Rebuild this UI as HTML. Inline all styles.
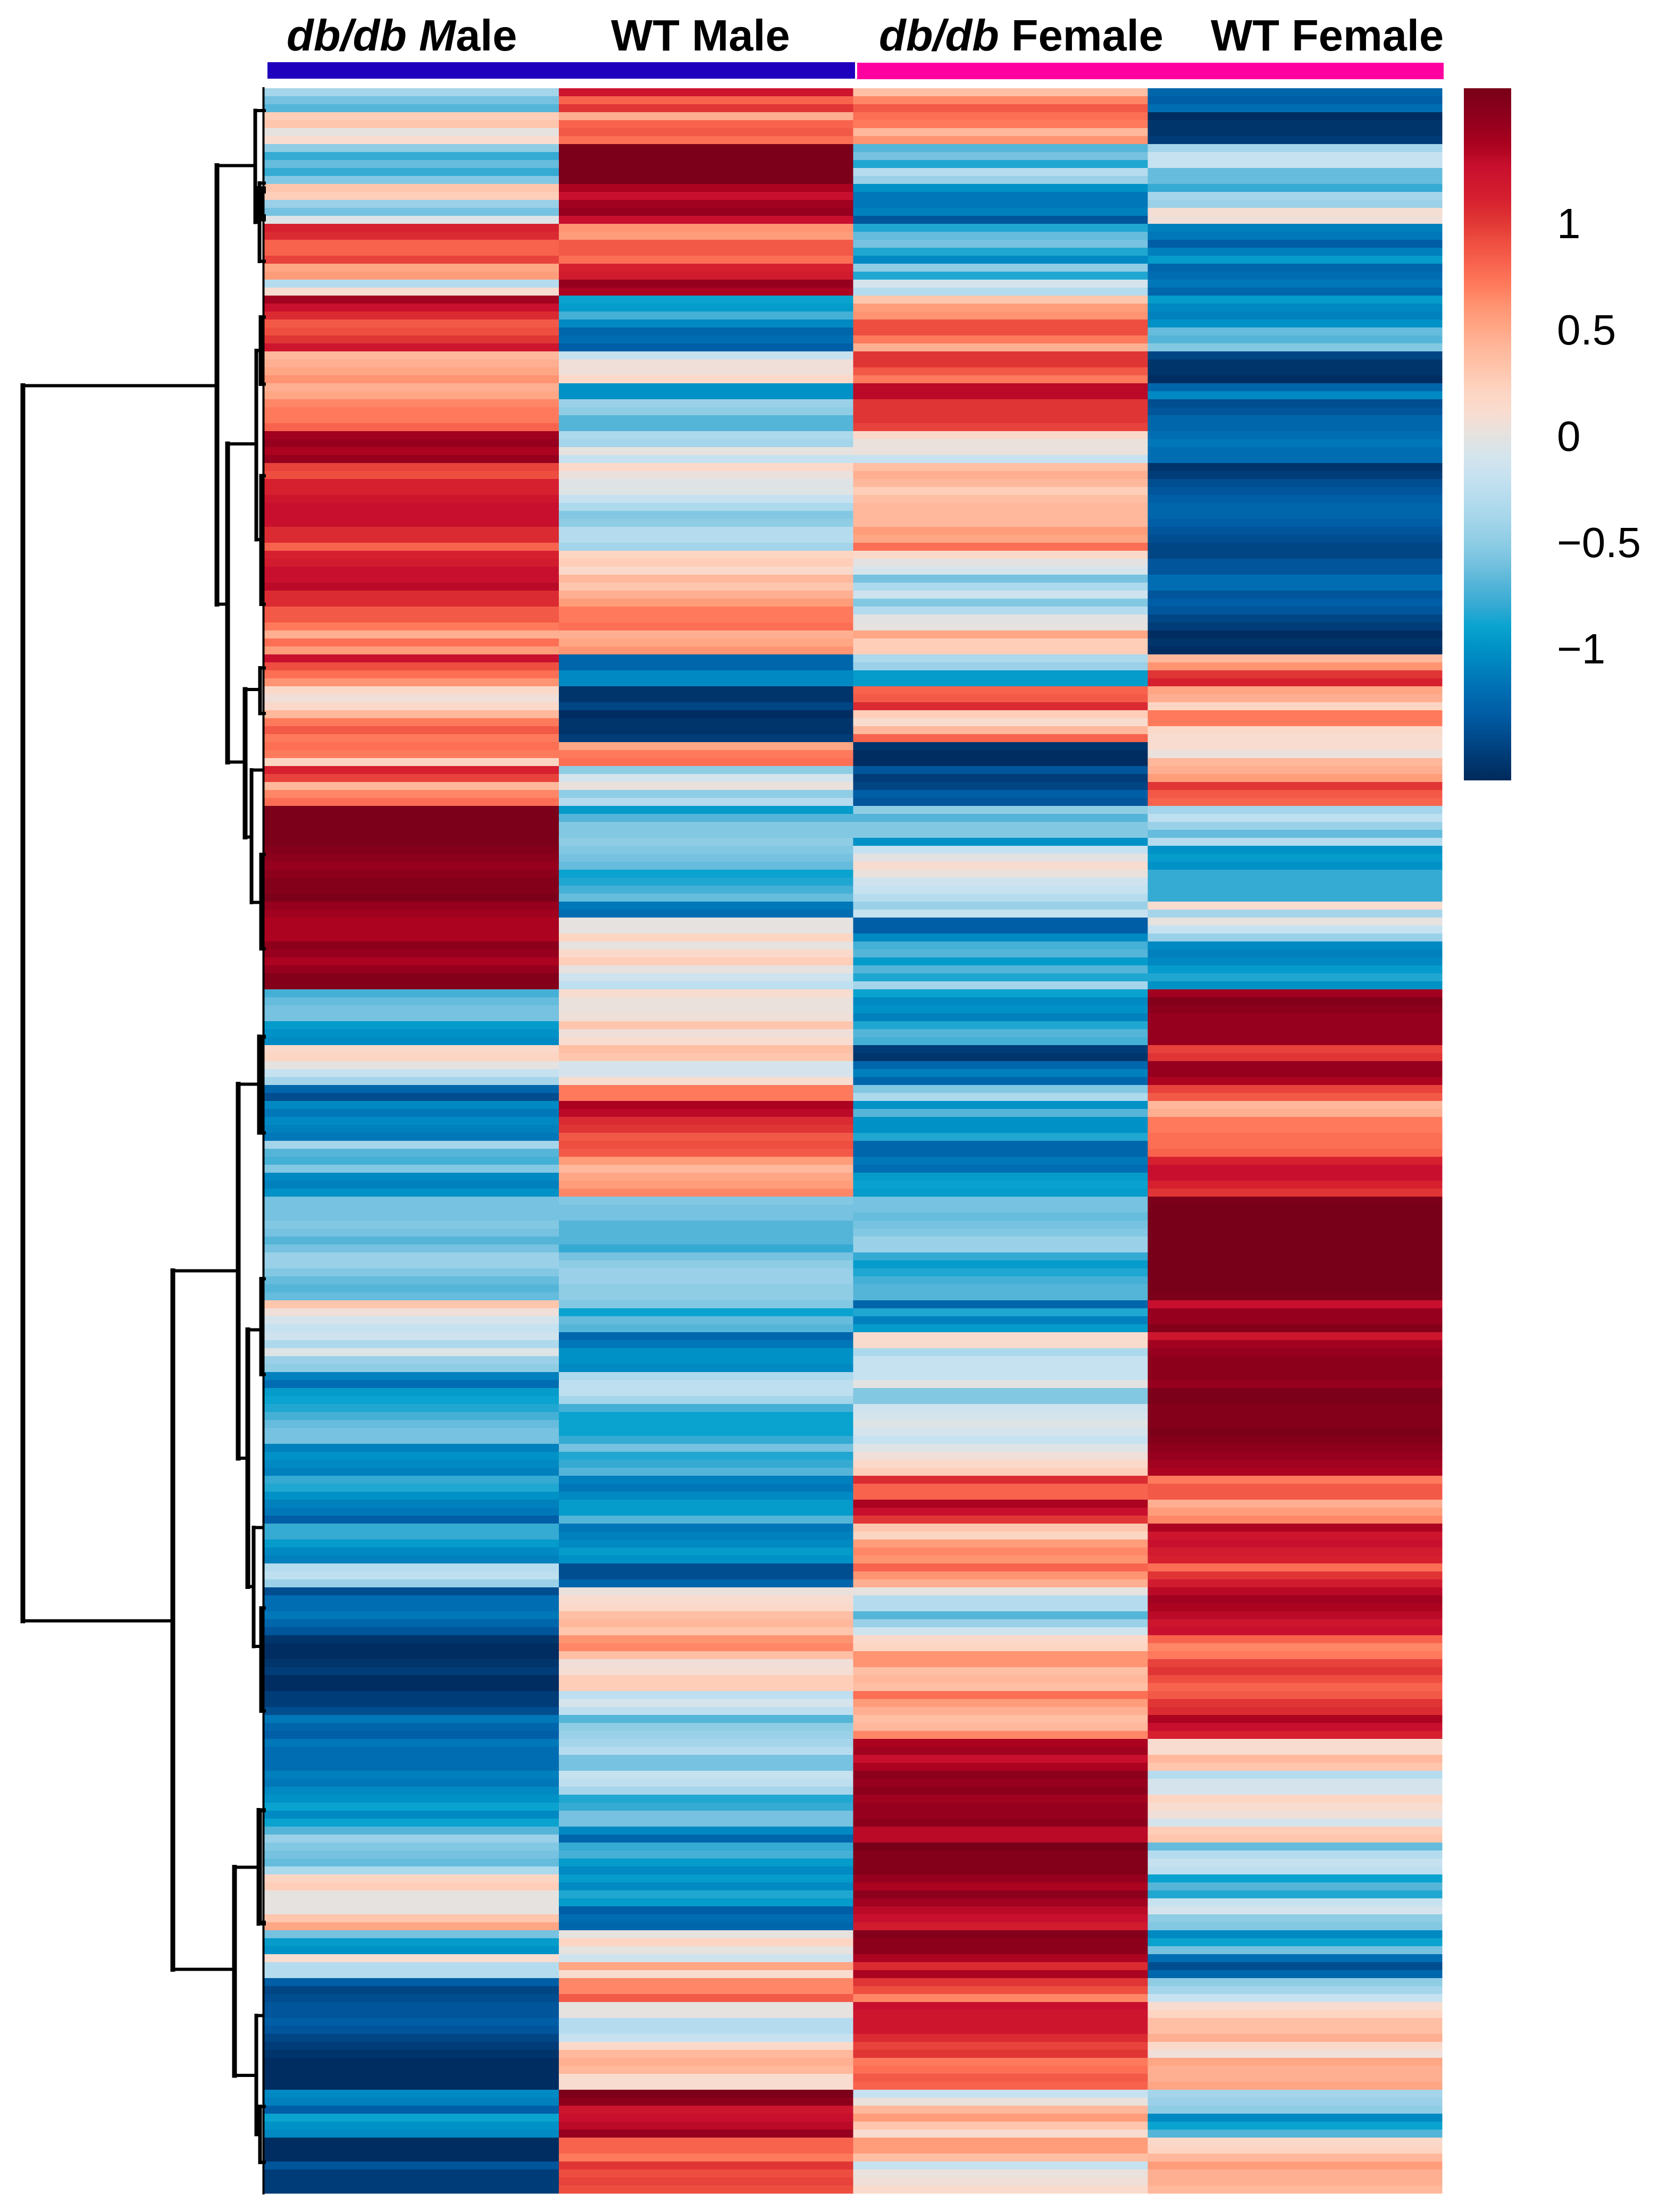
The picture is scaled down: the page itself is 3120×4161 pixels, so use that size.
<!DOCTYPE html>
<html lang="en">
<head>
<meta charset="utf-8">
<title>Clustered heatmap</title>
<style>
html,body{margin:0;padding:0;background:#fff;}
svg{display:block;}
text{font-family:"Liberation Sans",sans-serif;fill:#000;}
</style>
</head>
<body>
<svg id="chart" xmlns="http://www.w3.org/2000/svg" width="3120" height="4161" viewBox="0 0 3120 4161">
  <rect x="0" y="0" width="3120" height="4161" fill="#fff"/>
  <text x="539" y="95" font-size="83" font-weight="700"><tspan font-style="italic">db/db M</tspan>ale</text>
  <text x="1149" y="95" font-size="83" font-weight="700">WT Male</text>
  <text x="1653" y="95" font-size="83" font-weight="700"><tspan font-style="italic">db/db</tspan> Female</text>
  <text x="2277" y="95" font-size="83" font-weight="700">WT Female</text>
  <rect x="503" y="117" width="1105" height="31" fill="#1e00bd"/>
  <rect x="1612" y="118" width="1103" height="31" fill="#ff00a0"/>
  <g id="cells" shape-rendering="crispEdges"></g>
  <g id="dendrogram" stroke="#000" fill="none"></g>
  <g id="legend"></g>
</svg>
<script>
// Heatmap values, one entry per row, top to bottom.
const dbdbMale = [
-.4,-.6,-.7,.25,.3,0,.1,-.5,-.8,-.65,
-.8,-.55,.3,.25,-.45,-.6,-.05,1.1,1.05,.8,
.8,.95,.5,.55,-.3,.1,1.4,1.25,1.05,.85,
.9,1,1.2,.4,.45,.5,.6,.45,.5,.65,
.7,.7,.8,1.4,1.45,1.35,1.45,.95,.9,1.1,
1.1,1.2,1.25,1.25,1.25,1.05,1.05,.8,1.1,1.15,
1.25,1.25,1.3,1.05,1.05,.85,.85,.7,.45,.75,
.55,1.25,.9,.75,.6,.15,.05,.15,.4,.7,
.85,.7,.75,.7,.2,1.1,.95,.4,.65,.75,
1.6,1.6,1.6,1.6,1.6,1.55,1.5,1.45,1.5,1.55,
1.55,1.6,1.45,1.4,1.35,1.35,1.35,1.5,1.45,1.35,
1.45,1.55,1.55,-.75,-.65,-.6,-.6,-.95,-1,-1.05,
.15,.2,0,-.2,-.4,-1.25,-1.4,-1.05,-1.15,-1.05,
-1.1,-1.15,-.4,-.7,-.75,-.55,-1.05,-1.1,-1,-.6,
-.6,-.6,-.55,-.6,-.7,-.6,-.45,-.45,-.55,-.65,
-.7,-.65,.3,.05,-.1,-.2,-.15,-.35,-.05,-.45,
-.5,-1.1,-1.2,-.95,-.9,-.85,-.75,-.65,-.6,-.6,
-1.1,-1,-1.05,-1.1,-.8,-.85,-1,-1.1,-1.15,-1.3,
-.8,-.8,-.95,-1.05,-1.1,-.3,-.25,-.45,-1.4,-1.2,
-1.2,-1.15,-1.25,-1.35,-1.55,-1.6,-1.6,-1.55,-1.5,-1.6,
-1.6,-1.5,-1.5,-1.4,-1.15,-1.25,-1.3,-1.15,-1.2,-1.2,
-1.2,-1.1,-1.15,-1.05,-1,-.9,-1.05,-.9,-.7,-.45,
-.55,-.6,-.65,-.35,.2,.25,0,0,0,.3,
.5,-.6,-.95,-1,.1,-.3,-.3,-1.3,-1.45,-1.4,
-1.35,-1.35,-1.3,-1.35,-1.45,-1.5,-1.55,-1.6,-1.6,-1.6,
-1.6,-1.05,-1.1,-1.3,-.9,-1,-1.05,-1.6,-1.6,-1.6,
-1.35,-1.5,-1.5,-1.5];
const wtMale = [
1.2,.8,1,.45,.8,.85,.75,1.6,1.6,1.6,
1.6,1.6,1.35,1.25,1.4,1.45,1.25,.6,.55,.85,
.85,.75,1.1,1.15,1.45,1.35,-.9,-.95,-.75,-1.05,
-1.25,-1.2,-1.3,-.2,.05,.05,.15,-1,-1,-.45,
-.5,-.7,-.7,-.35,-.4,0,-.2,.15,.02,-.05,
-.05,-.2,-.35,-.55,-.5,-.3,-.3,-.4,.2,.25,
.15,.4,.3,.45,.55,.7,.7,.75,.45,.5,
.6,-1.25,-1.25,-1.05,-1.05,-1.55,-1.55,-1.45,-1.6,-1.55,
-1.55,-1.5,.5,.7,.75,-.5,-.1,.02,-.5,-.3,
-.95,-.7,-.55,-.55,-.5,-.55,-.6,-.65,-.9,-.85,
-.75,-.65,-1.15,-1.2,0,0,.2,0,.15,.25,
0,-.15,-.25,.1,.02,.02,.05,.3,.05,.1,
.35,.3,-.1,-.1,.1,.7,.7,1.35,1.3,1.05,
1,.85,.9,.85,.55,.4,.5,.55,.65,-.55,
-.6,-.6,-.7,-.7,-.7,-.8,-.6,-.5,-.45,-.45,
-.5,-.5,-.55,-.9,-.65,-.7,-1.25,-1.15,-1,-1,
-1.05,-.35,-.25,-.25,-.4,-.75,-.9,-.9,-.9,-.8,
-.6,-.85,-.8,-.7,-1.1,-1.15,-1.05,-.95,-.95,-.7,
-1.15,-1.1,-1.05,-.95,-1,-1.4,-1.4,-1.25,.03,.1,
.15,.35,.4,.3,.6,.65,.35,.05,.08,.25,
.25,-.25,-.1,-.25,-.7,-.5,-.45,-.4,-.3,-.6,
-.6,-.2,-.25,-.4,-.85,-.8,-.6,-.6,-1.05,-1.25,
-.8,-.75,-.95,-1.05,-.95,-1.05,-.85,-.95,-1.3,-1.2,
-1.25,0,.2,0,-.15,.5,.1,.65,.65,.85,
0,0,-.3,-.3,-.2,.15,.4,.45,.4,.1,
.1,1.6,1.5,1.2,1.25,1.3,1.45,.8,.8,.7,
1,.9,.95,.9];
const dbdbFemale = [
.35,.65,.85,.75,.7,.4,.6,-.7,-.6,-.85,
-.3,-.45,-1,-1.15,-1.15,-1.1,-1.35,-.85,-.65,-.6,
-.85,-1.05,-.5,-.85,-.1,-.3,.3,.55,.6,.9,
.9,.7,.45,1,1,.85,.7,1.3,1.3,1,
1,1,.95,.15,.02,.02,-.2,.35,.45,.4,
.25,.35,.4,.4,.4,.55,.5,.75,.15,-.02,
-.1,-.6,-.35,-.15,-.55,-.3,-.02,0,.5,.25,
.25,-.35,-.45,-.95,-.95,.8,.85,1.05,.25,.1,
.4,.8,-1.55,-1.6,-1.6,-1.35,-1.5,-1.45,-1.3,-1.35,
-.5,-.7,-.55,-.55,-1,-.2,-.02,.1,.02,-.15,
-.2,-.3,-.45,-.2,-1.3,-1.3,-1.05,-.75,-.7,-.95,
-.7,-.85,-.4,-.9,-1.05,-1,-1.1,-.85,-.7,-.75,
-1.5,-1.55,-1.25,-1.1,-1.25,-.55,-.35,-1,-.7,-1,
-1,-.85,-1.25,-1.25,-1.15,-1.2,-.95,-.9,-.95,-.6,
-.6,-.65,-.6,-.55,-.45,-.45,-.8,-.95,-.85,-.75,
-.7,-.7,-1.25,-.85,-1.1,-.95,.12,.12,-.35,-.2,
-.2,-.2,-.02,-.55,-.55,-.15,-.1,-.05,-.1,-.2,
-.05,.05,.15,.25,1.05,.8,.8,1.35,1.25,1,
.3,.2,.55,.65,.6,.8,.6,.45,0,-.3,
-.3,-.7,-.45,-.15,.15,.2,.6,.6,.35,.4,
.35,.75,.55,.45,.35,.4,.65,1.35,1.4,1.25,
1.35,1.5,1.45,1.5,1.4,1.45,1.45,1.5,1.3,1.3,
1.62,1.55,1.55,1.55,1.45,1.35,1.5,1.4,1.3,1.25,
1.15,1.55,1.5,1.5,1.35,1.05,1.35,1,.9,.65,
1.25,1.2,1.2,1.2,1.05,.95,1,.7,.75,.85,
.8,-.2,.02,.4,.55,.3,.1,.55,.55,.35,
-.2,.02,.05,.12];
const wtFemale = [
-1.25,-1.3,-1.2,-1.6,-1.55,-1.55,-1.5,-.4,-.2,-.2,
-.65,-.65,-.8,-.4,-.45,.08,.05,-1.1,-1.15,-1.3,
-1.1,-.95,-1.25,-1.2,-1.15,-1.25,-.95,-1.05,-1.1,-1,
-.65,-.7,-.55,-1.45,-1.55,-1.55,-1.6,-1.25,-1.05,-1.4,
-1.35,-1.25,-1.25,-1.2,-1.15,-1.2,-1.2,-1.55,-1.5,-1.4,
-1.35,-1.3,-1.25,-1.25,-1.3,-1.35,-1.4,-1.45,-1.45,-1.35,
-1.35,-1.2,-1.2,-1.35,-1.3,-1.35,-1.45,-1.5,-1.6,-1.55,
-1.6,.4,.6,1,1.1,.5,.45,.2,.7,.7,
.15,.1,.1,.02,.4,.45,.55,1,.85,.8,
-.4,-.25,-.45,-.65,-.3,-1,-.95,-1,-.8,-.8,
-.8,-.8,.1,-.4,0,-.2,-.45,-1.05,-1.1,-1.05,
-.95,-.85,-1,1.4,1.55,1.5,1.45,1.45,1.45,1.45,
.95,1,1.45,1.45,1.35,.95,.85,.4,.45,.7,
.7,.75,.75,.8,1.1,1.25,1.25,1.1,1,1.6,
1.62,1.62,1.62,1.62,1.62,1.62,1.62,1.62,1.62,1.62,
1.62,1.6,1.25,1.45,1.45,1.55,1.2,1.4,1.45,1.5,
1.5,1.5,1.45,1.6,1.6,1.55,1.55,1.55,1.6,1.55,
1.5,1.45,1.4,1.35,.7,.85,.85,.45,.55,.65,
1.35,1.2,1.25,1.15,1.1,.75,1,1.15,1.3,1.4,
1.35,1.3,1.2,1.25,.8,.65,.7,.95,1,.9,
.8,.85,1,1.05,1.35,1.25,1.1,.1,.1,.4,
.3,-.3,-.1,-.1,.2,.1,.05,-.1,.25,.3,
-.65,-.3,-.2,-.25,-.9,-.7,-.85,-.2,-.1,-.5,
-.55,-1.05,-.9,-.6,-1.2,-1.4,-1.25,-.5,-.4,-.2,
.1,.2,.35,.35,.45,.15,.05,.5,.45,.45,
.5,-.4,-.45,-.5,-1.05,-.9,-.7,.15,.2,.4,
.55,.45,.45,.4];
const heatmapColumns = [dbdbMale, wtMale, dbdbFemale, wtFemale];
const columnNames = ['db-db-male', 'wt-male', 'db-db-female', 'wt-female'];

// Colour scale.
const scaleValues = [-1.62,-1.5,-1.4,-1.3,-1.2,-1.1,-1,-.9,-.8,-.7,-.6,-.5,-.4,-.3,-.2,-.1,0,.1,.2,.3,.4,.5,.6,.7,.8,.9,1,1.1,1.25,1.35,1.45,1.62];
const scaleColors = ['#002a5c','#003c77','#004d90','#005ea6','#006db2','#0080bd','#0092c6','#0aa3cf','#35aad3','#55b5d8','#76c2e0','#8fcde5','#a4d5ea','#b5dcee','#c6e2f0','#d5e4ec','#e6e2df','#f8dcd0','#fdd5c3','#ffc6ae','#ffb89c','#ffa685','#ff9472','#ff7a5c','#f8634e','#ee4e40','#e03535','#d6202f','#c8102e','#ac0320','#96001e','#780018'];

// Legend ticks.
const legendTickValues = [1, .5, 0, -.5, -1];
const legendTickLabels = ['1', '0.5', '0', '\u22120.5', '\u22121'];

// Dendrogram merges: height, row span, and the heights of the two children.
const mergeHeight = [454,89,17,9,69,15,7,6,36,8,24,6,172,49,10,31,6,20,6,56,11,15,8,14,11,7,6,8];
const mergeTopRow = [37.3,9.7,2.8,11.9,44.6,32.9,28.7,48.6,75.4,72.7,85.5,96.1,148.3,124.9,118.9,155.7,149.3,180.5,190.6,223.1,215.9,241.7,253.1,12.5,12.7,13,119,216];
const mergeBottomRow = [192.2,64.7,16.8,21.7,84.5,56.6,37.1,64.7,93.9,78.4,102.1,107.9,235.9,171.8,131,187.9,161.3,195.4,203.5,249.2,230.2,256.6,260.1,16.5,16.3,16,131,230];
const mergeTopChild = [89,17,0,0,15,7,0,0,8,0,4,0,49,10,0,6,0,4,0,11,0,5,0,0,0,0,0,0];
const mergeBottomChild = [172,69,9,0,36,6,0,0,24,0,6,0,56,31,0,20,0,6,0,15,0,8,0,0,0,0,0,0];

const SVG_NS = 'http://www.w3.org/2000/svg';
const plotLeft = 497, plotTop = 166, plotBottom = 4126, colWidth = 553.75;
const rowCount = dbdbMale.length;
const rowHeight = (plotBottom - plotTop) / rowCount;
const legendLeft = 2753, legendWidth = 89, legendTop = 166, legendBottom = 1468;

function xColumn(c) { return plotLeft + c * colWidth; }
function yRow(r) { return plotTop + r * rowHeight; }
function xHeight(h) { return plotLeft - h; }
function yLegend(v) {
  const mid = (legendTop + legendBottom) / 2 + 2;
  return mid - v * 400;
}
function hexToRgb(h) {
  return [parseInt(h.slice(1, 3), 16), parseInt(h.slice(3, 5), 16), parseInt(h.slice(5, 7), 16)];
}
function colorOf(v) {
  const n = scaleValues.length;
  if (v <= scaleValues[0]) return scaleColors[0];
  if (v >= scaleValues[n - 1]) return scaleColors[n - 1];
  let i = 0;
  while (v > scaleValues[i + 1]) i++;
  const t = (v - scaleValues[i]) / (scaleValues[i + 1] - scaleValues[i]);
  const a = hexToRgb(scaleColors[i]), b = hexToRgb(scaleColors[i + 1]);
  const m = a.map(function (x, k) { return Math.round(x + (b[k] - x) * t); });
  return 'rgb(' + m.join(',') + ')';
}

// Heatmap cells
const cellsGroup = document.getElementById('cells');
heatmapColumns.forEach(function (col, c) {
  col.forEach(function (v, r) {
    const el = document.createElementNS(SVG_NS, 'rect');
    
    
    el.setAttribute('x', xColumn(c));
    el.setAttribute('y', yRow(r));
    el.setAttribute('width', colWidth + 0.5);
    el.setAttribute('height', rowHeight + 0.5);
    el.setAttribute('fill', colorOf(v));
    cellsGroup.appendChild(el);
  });
});

// Dendrogram
const dendro = document.getElementById('dendrogram');
function addSegment(x1, y1, x2, y2, width) {
  const el = document.createElementNS(SVG_NS, 'line');
  
  
  el.setAttribute('x1', x1);
  el.setAttribute('y1', y1);
  el.setAttribute('x2', x2);
  el.setAttribute('y2', y2);
  el.setAttribute('stroke-width', width);
  el.setAttribute('stroke-linecap', 'square');
  dendro.appendChild(el);
}
mergeHeight.forEach(function (h, i) {
  const x = xHeight(h);
  const yTop = yRow(mergeTopRow[i]);
  const yBottom = yRow(mergeBottomRow[i]);
  const major = h > 30;
  addSegment(x, yTop, x, yBottom, major ? 9 : 7);
  addSegment(x, yTop, xHeight(mergeTopChild[i]), yTop, 6);
  addSegment(x, yBottom, xHeight(mergeBottomChild[i]), yBottom, 6);
});
addSegment(xHeight(1.5), yRow(0), xHeight(1.5), yRow(rowCount), 4);

// Legend
const legendGroup = document.getElementById('legend');
const defs = document.createElementNS(SVG_NS, 'defs');
const gradient = document.createElementNS(SVG_NS, 'linearGradient');
gradient.setAttribute('id', 'legend-gradient');
gradient.setAttribute('x1', '0');
gradient.setAttribute('y1', '1');
gradient.setAttribute('x2', '0');
gradient.setAttribute('y2', '0');
scaleValues.forEach(function (v, i) {
  const stop = document.createElementNS(SVG_NS, 'stop');
  const span = scaleValues[scaleValues.length - 1] - scaleValues[0];
  stop.setAttribute('offset', (v - scaleValues[0]) / span);
  stop.setAttribute('stop-color', scaleColors[i]);
  gradient.appendChild(stop);
});
defs.appendChild(gradient);
legendGroup.appendChild(defs);
const bar = document.createElementNS(SVG_NS, 'rect');


bar.setAttribute('x', legendLeft);
bar.setAttribute('y', legendTop);
bar.setAttribute('width', legendWidth);
bar.setAttribute('height', legendBottom - legendTop);
bar.setAttribute('fill', 'url(#legend-gradient)');
legendGroup.appendChild(bar);
legendTickValues.forEach(function (v, i) {
  const t = document.createElementNS(SVG_NS, 'text');
  
  
  t.setAttribute('x', 2928);
  t.setAttribute('y', yLegend(v) + 29);
  t.setAttribute('font-size', 80);
  t.textContent = legendTickLabels[i];
  legendGroup.appendChild(t);
});
</script>
</body>
</html>
